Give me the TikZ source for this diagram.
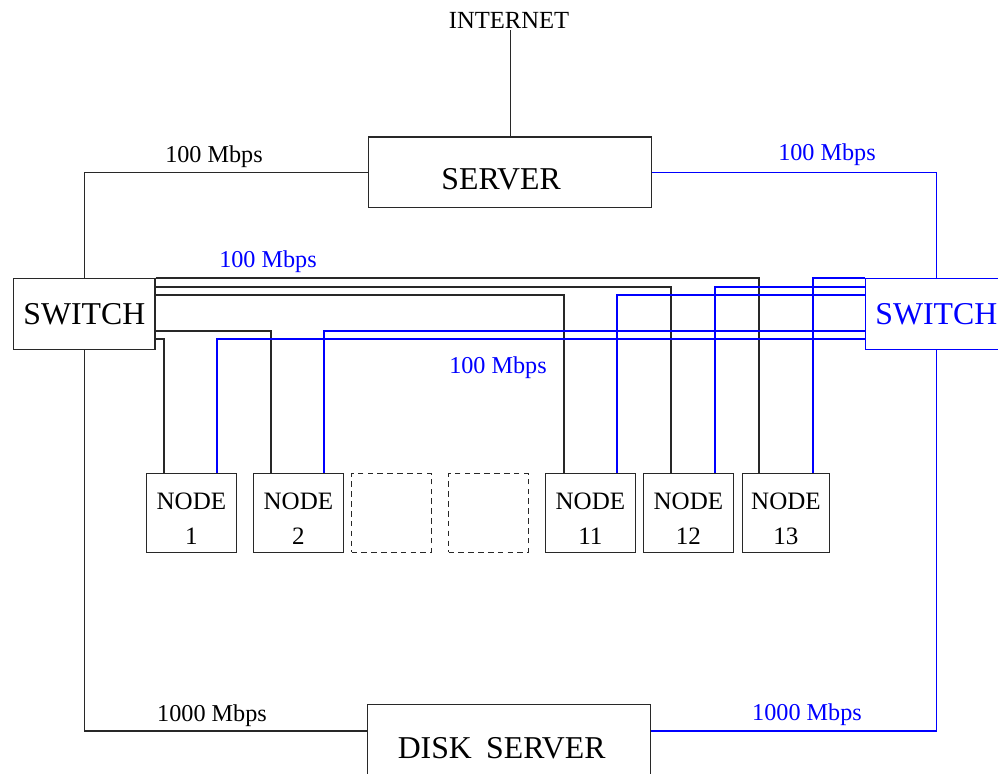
\documentclass[tikz,border=0pt]{standalone}
\usepackage{fontspec}
\setmainfont{Liberation Serif}
\usetikzlibrary{calc}
\definecolor{netblue}{RGB}{0,0,255}
\definecolor{wire}{RGB}{40,40,40}
\tikzset{
	box/.style={draw=wire, line width=0.8pt, inner sep=0pt, anchor=north west},
	hub/.style={box, minimum width=100.6pt, minimum height=50.3pt, font=\fontsize{22.6}{27}\selectfont},
	host/.style={box, minimum width=201.3pt, minimum height=50.3pt, font=\fontsize{22.6}{27}\selectfont},
	pc/.style={box, minimum width=63.8pt, minimum height=56pt, align=center, font=\fontsize{17.8}{21.4}\selectfont},
	slot/.style={box, dash pattern=on 4pt off 3pt, minimum width=56.7pt, minimum height=56pt},
	rate/.style={inner sep=1pt, font=\fontsize{17.2}{20}\selectfont},
	link/.style={draw=wire, line width=0.8pt},
	blink/.style={draw=netblue, line width=0.8pt}
}
\begin{document}
\begin{tikzpicture}[x=0.025cm, y=-0.025cm]
		\clip (0,0) rectangle (998,774);
		% top: internet and server
		\node[rate, font=\fontsize{17.5}{20}\selectfont] (inet) at (509,20) {INTERNET};
		\node[host, text height=24pt, text depth=0pt] (srv) at (368,136.5) {SERVER\kern12.8pt};
		% the two switches
		\node[hub] (swL) at (13,278) {SWITCH};
		\node[hub, draw=netblue, text=netblue] (swR) at (865,278) {SWITCH};
		% bottom: disk server
		\node[host, minimum height=62.4pt] (dsk) at (367,704) {DISK\hspace{0.45em}SERVER\kern10.6pt};
		% compute nodes, two empty slots in between
		\node[pc] (n1) at (146,473) {\rule{0pt}{20pt}NODE\\[3.4pt]1};
		\node[pc] (n2) at (253,473) {\rule{0pt}{20pt}NODE\\[3.4pt]2};
		\node[slot] (d1) at (351,473) {};
		\node[slot] (d2) at (448,473) {};
		\node[pc] (n11) at (545,473) {\rule{0pt}{20pt}NODE\\[3.4pt]11};
		\node[pc] (n12) at (643,473) {\rule{0pt}{20pt}NODE\\[3.4pt]12};
		\node[pc, minimum width=61.7pt] (n13) at (742,473) {\rule{0pt}{20pt}NODE\\[3.4pt]13};

		\draw[link] (srv.north) -- (srv.north |- inet.south);
		\draw[link] (srv.west) -| (swL.north);
		\draw[blink] (srv.east) -| (swR.north);
		\draw[link] (swL.south) |- ($(dsk.north west)+(0,27)$);
		\draw[blink] (swR.south) |- ($(dsk.north east)+(0,27)$);

		% black wires from the left switch
		\foreach \n/\dy/\dx in {n13/0/17, n12/9/28, n11/17/19, n2/53/18, n1/61/18}{
				\draw[link] ($(swL.north east)+(0,\dy)$) -| ($(\n.north west)+(\dx,0)$);
			};
		% blue wires from the right switch
		\foreach \n/\dy/\dx in {n13/0/71, n12/9/72, n11/17/72, n2/53/71, n1/61/71}{
				\draw[blink] ($(swR.north west)+(0,\dy)$) -| ($(\n.north west)+(\dx,0)$);
			};

		% link speeds
		\node[rate] (r1) at (214,157) {100 Mbps};
		\node[rate, text=netblue] (r2) at (827,155) {100 Mbps};
		\node[rate, text=netblue] (r3) at (268,262) {100 Mbps};
		\node[rate, text=netblue] (r4) at (498,368) {100 Mbps};
		\node[rate] (r5) at (212,716) {1000 Mbps};
		\node[rate, text=netblue] (r6) at (807,715) {1000 Mbps};
	\end{tikzpicture}
\end{document}
